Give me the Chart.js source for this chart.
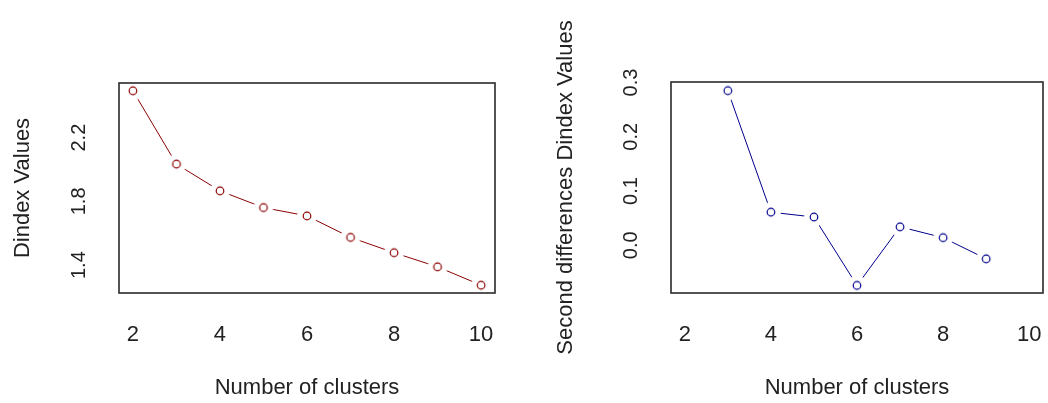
<!DOCTYPE html>
<html>
<head>
<meta charset="utf-8">
<script src="https://cdn.jsdelivr.net/npm/chart.js@4.4.1/dist/chart.umd.min.js"></script>
<style>
  body { margin: 0; background: #fff; }
  .panel { position: absolute; top: 0; width: 524px; height: 403px; }
</style>
</head>
<body>
<div class="panel" style="left:0"><canvas id="dindex" width="524" height="403"></canvas></div>
<div class="panel" style="left:524px"><canvas id="secondDiff" width="524" height="403"></canvas></div>
<script>
// number of clusters on the x axis
var clusters = [2, 3, 4, 5, 6, 7, 8, 9, 10];
var xTicks = [2, 4, 6, 8, 10];

// Dindex values per cluster count
var dindexValues = [2.494, 2.034, 1.866, 1.761, 1.709, 1.574, 1.478, 1.389, 1.274];
var dindexTicks = [1.4, 1.8, 2.2];

// second differences (no value at both ends)
var secondDiffValues = [null, 0.285, 0.061, 0.052, -0.074, 0.034, 0.014, -0.025, null];
var secondDiffTicks = [0.0, 0.1, 0.2, 0.3];

var textColor = '#222';
var fontFamily = '"Liberation Sans", Arial, sans-serif';

// open circle with a white halo, gives the R type="b" gap look
function makeMarker(color) {
	var c = document.createElement('canvas');
	c.width = 22;
	c.height = 22;
	var ctx = c.getContext('2d');
	ctx.fillStyle = '#fff';
	ctx.beginPath();
	ctx.arc(11, 11, 10, 0, Math.PI * 2);
	ctx.fill();
	ctx.strokeStyle = color;
	ctx.lineWidth = 1.2;
	ctx.beginPath();
	ctx.arc(11, 11, 3.8, 0, Math.PI * 2);
	ctx.stroke();
	return c;
}

var boxPlugin = {
	id: 'box',
	afterDraw: function(chart) {
		var a = chart.chartArea;
		var ctx = chart.ctx;
		ctx.save();
		ctx.strokeStyle = '#2a2a2a';
		ctx.lineWidth = 1.6;
		ctx.strokeRect(a.left, a.top, a.right - a.left, a.bottom - a.top);
		ctx.restore();
	}
};

function makeChart(id, values, color, yMin, yMax, yTicks, yTitle, opt) {
	var points = [];
	for (var i = 0; i < clusters.length; i++) {
		if (values[i] !== null) points.push({x: clusters[i], y: values[i]});
	}
	return new Chart(document.getElementById(id), {
		type: 'line',
		data: {
			datasets: [{
				data: points,
				borderColor: color,
				borderWidth: 1,
				fill: false,
				tension: 0,
				pointStyle: makeMarker(color),
				pointRadius: 4,
				pointHoverRadius: 4
			}]
		},
		options: {
			responsive: false,
			animation: false,
			events: [],
			layout: { padding: { left: 0, top: opt.top, right: opt.right, bottom: 0 } },
			plugins: { legend: { display: false }, tooltip: { enabled: false } },
			scales: {
				x: {
					type: 'linear',
					min: 1.68,
					max: 10.32,
					afterBuildTicks: function(s) { s.ticks = xTicks.map(function(v) { return {value: v}; }); },
					afterFit: function(s) { s.height = 110; s.paddingLeft = 0; s.paddingRight = 0; },
					grid: { display: false, drawTicks: false },
					border: { display: false },
					ticks: { color: textColor, padding: 29, maxRotation: 0, font: { family: fontFamily, size: 22 } },
					title: { display: true, text: 'Number of clusters', color: textColor, padding: { top: 0, bottom: 2 }, font: { family: fontFamily, size: 22, lineHeight: 1.2 } }
				},
				y: {
					type: 'linear',
					min: yMin,
					max: yMax,
					afterBuildTicks: function(s) { s.ticks = yTicks.map(function(v) { return {value: v}; }); },
					afterFit: function(s) { s.width = opt.yWidth; },
					grid: { display: false, drawTicks: false },
					border: { display: false },
					ticks: {
						color: textColor,
						padding: 26,
						minRotation: 90,
						maxRotation: 90,
						crossAlign: 'center',
						font: { family: fontFamily, size: 20 },
						callback: function(v) { return Number(v).toFixed(1); }
					},
					title: { display: true, text: yTitle, color: textColor, padding: { top: opt.titlePad, bottom: 0 }, font: { family: fontFamily, size: 22, lineHeight: 1.2 } }
				}
			}
		},
		plugins: [boxPlugin]
	});
}

makeChart('dindex', dindexValues, '#8B0000', 1.225, 2.543, dindexTicks, 'Dindex Values',
	{ top: 83, right: 29, yWidth: 119, titlePad: 10 });
makeChart('secondDiff', secondDiffValues, '#00008B', -0.088, 0.301, secondDiffTicks, 'Second differences Dindex Values',
	{ top: 82, right: 4, yWidth: 147, titlePad: 29 });
</script>
</body>
</html>
